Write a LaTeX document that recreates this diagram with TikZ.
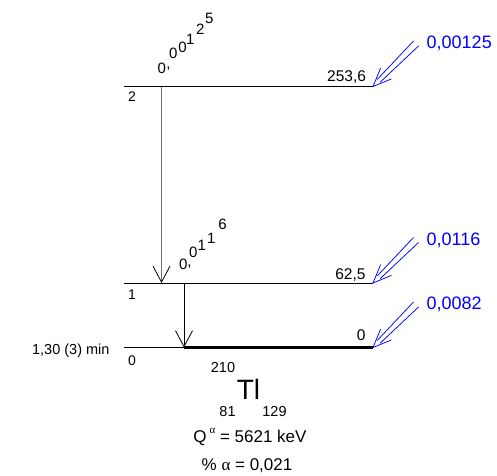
\documentclass[tikz,border=0pt]{standalone}
\usepackage{fontspec}
\setmainfont{Liberation Sans}
\newfontfamily\grk{Liberation Serif}
\usetikzlibrary{arrows.meta}
\newcommand{\fsz}[1]{\fontsize{#1}{#1}\selectfont}
\tikzset{
  lbl/.style={inner sep=0pt, outer sep=0pt},
  lvl/.style={line width=0.9pt, black},
  gs/.style={line width=0.8pt, -{Straight Barb[black,length=16pt,width=17pt,line width=0.8pt]}},
  feedtxt/.style={lbl, blue, anchor=base west, font=\fsz{18}},
  feed/.pic={\draw[blue, line width=0.75pt]
     (40.5,-45.5) -- (4.24,-7.07)
     (45.5,-40.5) -- (7.07,-4.24)
     (7.6,-18.4) -- (0,0) -- (18.4,-7.6);},
  stair/.style={lbl, font=\fsz{15}}
}
\begin{document}
\begin{tikzpicture}[x=1pt,y=-1pt]
\useasboundingbox (0,0) rectangle (497,475);
% level end points
\coordinate (L2a) at (123.5,86.5);
\coordinate (L2b) at (373,86.5);
\coordinate (L1a) at (123.5,283);
\coordinate (L1b) at (373,283);
\coordinate (L0a) at (123.5,347.5);
\coordinate (L0m) at (184,347.5);
\coordinate (L0b) at (373,347.5);
% levels
\draw[lvl] (L2a) -- (L2b);
\draw[lvl] (L1a) -- (L1b);
\draw[lvl] (L0a) -- (L0m);
\draw[line width=2.6pt] (L0m) -- (L0b);
% gamma transitions
\coordinate (g1s) at (161.5,86.5);
\coordinate (g1e) at (161.5,283);
\coordinate (g2s) at (184,283);
\coordinate (g2e) at (184,347.5);
\draw[gs, draw=black!55] (g1s) -- (g1e);
\draw[gs, black] (g2s) -- (g2e);
% level labels
\node[lbl, anchor=base west, font=\fsz{14}] (n2) at (128,101.7) {2};
\node[lbl, anchor=base west, font=\fsz{14}] (n1) at (128,299) {1};
\node[lbl, anchor=base west, font=\fsz{14}] (n0) at (128,365.7) {0};
\node[lbl, anchor=base east, font=\fsz{15.5}] (e2) at (366,81.7) {253,6};
\node[lbl, anchor=base east, font=\fsz{15.5}] (e1) at (365.5,279.3) {62,5};
\node[lbl, anchor=base east, font=\fsz{15.5}] (e0) at (365.5,340) {0};
\node[lbl, anchor=base east, font=\fsz{14.5}] (hl) at (109.5,354.3) {1,30 (3) min};
% staircase intensities
\node[stair] (s1a) at (161.7,68.7) {0};
\node[stair] (s1b) at (168.5,68.3) {,};
\node[stair] (s1c) at (173.3,53.8) {0};
\node[stair] (s1d) at (182.5,47.2) {0};
\node[stair] (s1e) at (190.2,39.7) {1};
\node[stair] (s1f) at (200.2,28.8) {2};
\node[stair] (s1g) at (209.2,18.7) {5};
\node[stair] (s2a) at (183.2,264.2) {0};
\node[stair] (s2b) at (189.5,266.5) {,};
\node[stair] (s2c) at (193.3,252.5) {0};
\node[stair] (s2d) at (201.8,245.7) {1};
\node[stair] (s2e) at (211.3,238.3) {1};
\node[stair] (s2f) at (222.5,224.5) {6};
% alpha feedings
\pic at (L2b) {feed};
\pic at (L1b) {feed};
\pic at (L0b) {feed};
\node[feedtxt] (f2) at (426.7,48.3) {0,00125};
\node[feedtxt] (f1) at (426.7,245) {0,0116};
\node[feedtxt] (f0) at (426.7,309.3) {0,0082};
% nuclide
\node[lbl, anchor=base, font=\fsz{14.5}] (A) at (223,372.3) {210};
\node[lbl, anchor=base, font=\fsz{28}] (Tl) at (248.5,399.3) {Tl};
\node[lbl, anchor=base, font=\fsz{14.5}] (Z) at (227.5,416) {81};
\node[lbl, anchor=base, font=\fsz{14.5}] (N) at (274.5,416) {129};
\node[lbl, anchor=base, font=\fsz{17}] (Q) at (250,442.3) {Q\,\raisebox{0.5em}{\fsz{11}\grk α} = 5621 keV};
\node[lbl, anchor=base, font=\fsz{17}] (P) at (247,470) {\% {\grk α} = 0,021};
\end{tikzpicture}
\end{document}
